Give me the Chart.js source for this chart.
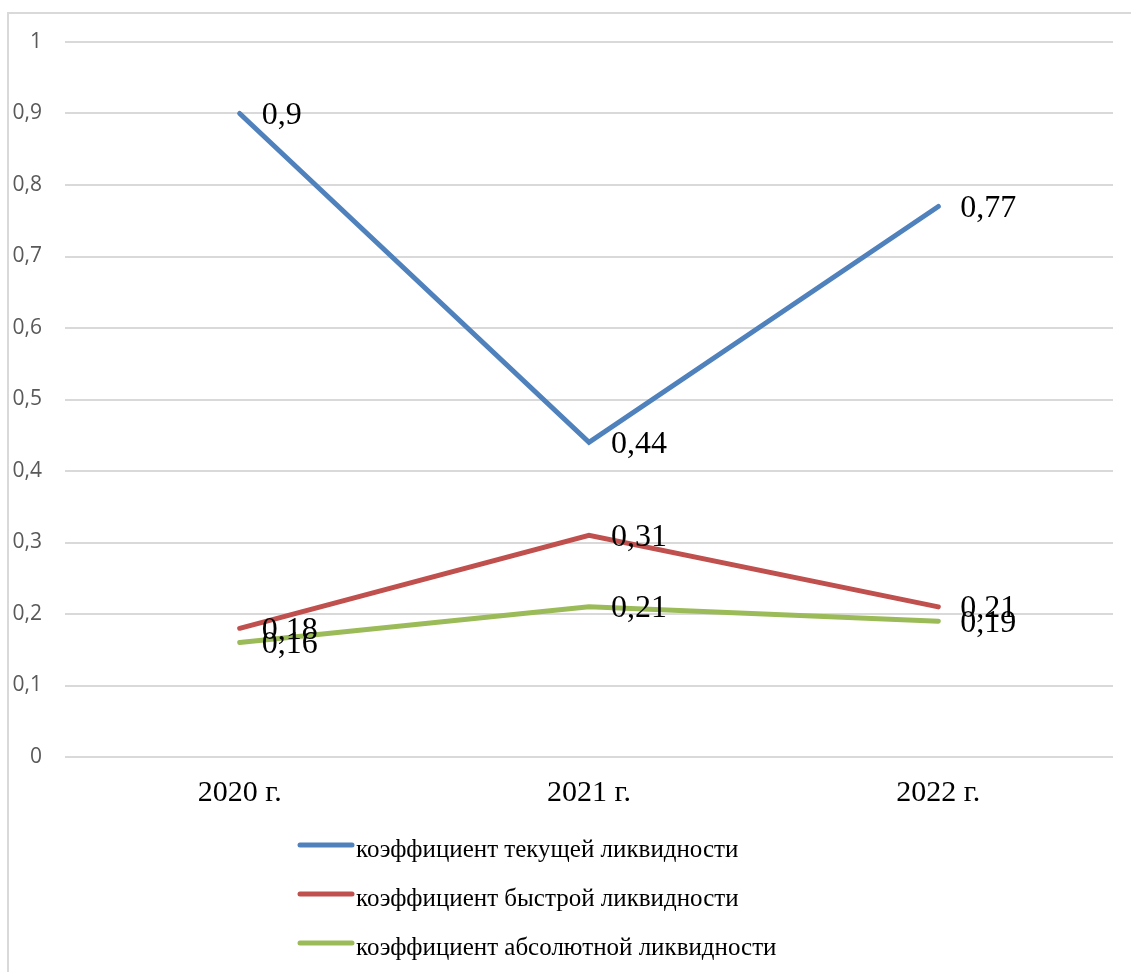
<!DOCTYPE html>
<html lang="ru">
<head>
<meta charset="utf-8">
<title>Коэффициенты ликвидности</title>
<script src="https://cdn.jsdelivr.net/npm/chart.js@4/dist/chart.umd.min.js"></script>
<style>
  html, body { margin: 0; padding: 0; background: #ffffff; }
  #wrap { width: 1131px; height: 972px; position: relative; }
</style>
</head>
<body>
<div id="wrap"><canvas id="chart" width="1131" height="972"></canvas></div>
<script>
// Годы и значения коэффициентов ликвидности
const years = ['2020 г.', '2021 г.', '2022 г.'];
const currentRatio = [0.9, 0.44, 0.77];
const quickRatio = [0.18, 0.31, 0.21];
const absoluteRatio = [0.16, 0.21, 0.19];
const seriesNames = [
  'коэффициент текущей ликвидности',
  'коэффициент быстрой ликвидности',
  'коэффициент абсолютной ликвидности'
];
const yTicks = [0, 0.1, 0.2, 0.3, 0.4, 0.5, 0.6, 0.7, 0.8, 0.9, 1];

const colors = ['#4F81BD', '#C0504D', '#9BBB59'];
const serif = '"Liberation Serif", "Times New Roman", serif';
const fmt = v => String(v).replace('.', ',');

// Рамка области диаграммы (видны только левая и верхняя стороны)
const frame = {
  id: 'frame',
  beforeDraw(chart) {
    const ctx = chart.ctx;
    ctx.save();
    ctx.strokeStyle = '#d9d9d9';
    ctx.lineWidth = 2;
    ctx.beginPath();
    ctx.moveTo(8, chart.height);
    ctx.lineTo(8, 13);
    ctx.lineTo(chart.width, 13);
    ctx.stroke();
    ctx.restore();
  }
};

// Подписи значений справа от точек
const valueLabels = {
  id: 'valueLabels',
  afterDatasetsDraw(chart) {
    const ctx = chart.ctx;
    ctx.save();
    ctx.font = '32px ' + serif;
    ctx.fillStyle = '#000000';
    ctx.textAlign = 'left';
    ctx.textBaseline = 'middle';
    chart.data.datasets.forEach((ds, i) => {
      chart.getDatasetMeta(i).data.forEach((pt, j) => {
        ctx.fillText(fmt(ds.data[j]), pt.x + 22, pt.y + 2);
      });
    });
    ctx.restore();
  }
};

// Легенда столбиком под осью категорий
const stackedLegend = {
  id: 'stackedLegend',
  afterDraw(chart) {
    const ctx = chart.ctx;
    const lineY = [845, 894, 943];
    ctx.save();
    ctx.font = '25px ' + serif;
    ctx.fillStyle = '#000000';
    ctx.textAlign = 'left';
    ctx.textBaseline = 'alphabetic';
    chart.data.datasets.forEach((ds, i) => {
      const y = lineY[i];
      ctx.strokeStyle = ds.borderColor;
      ctx.lineWidth = 5;
      ctx.lineCap = 'round';
      ctx.beginPath();
      ctx.moveTo(300, y);
      ctx.lineTo(352, y);
      ctx.stroke();
      ctx.fillText(ds.label, 356, y + 12);
    });
    ctx.restore();
  }
};

const series = [currentRatio, quickRatio, absoluteRatio];

new Chart(document.getElementById('chart'), {
  type: 'line',
  data: {
    labels: years,
    datasets: series.map((values, i) => ({
      label: seriesNames[i],
      data: values,
      borderColor: colors[i],
      backgroundColor: colors[i],
      borderWidth: 5,
      borderCapStyle: 'round',
      borderJoinStyle: 'miter',
      pointRadius: 0,
      pointHoverRadius: 0,
      tension: 0,
      fill: false
    }))
  },
  options: {
    responsive: false,
    animation: false,
    events: [],
    layout: { padding: { top: 42, right: 18, bottom: 155, left: 0 } },
    plugins: {
      legend: { display: false },
      tooltip: { enabled: false }
    },
    scales: {
      x: {
        offset: true,
        grid: { display: false, drawTicks: false },
        border: { display: false },
        ticks: {
          padding: 18,
          color: '#000000',
          font: { family: serif, size: 30 }
        },
        afterFit(scale) { scale.height = 60; }
      },
      y: {
        min: 0,
        max: 1,
        afterBuildTicks(scale) { scale.ticks = yTicks.map(v => ({ value: v })); },
        grid: { color: '#d9d9d9', lineWidth: 2, drawTicks: false },
        border: { display: false },
        ticks: {
          padding: 23,
          color: '#595959',
          font: { family: '"Open Sans", "Liberation Sans", sans-serif', size: 21 },
          callback: v => fmt(v)
        },
        afterFit(scale) { scale.width = 65; }
      }
    }
  },
  plugins: [frame, valueLabels, stackedLegend]
});
</script>
</body>
</html>
